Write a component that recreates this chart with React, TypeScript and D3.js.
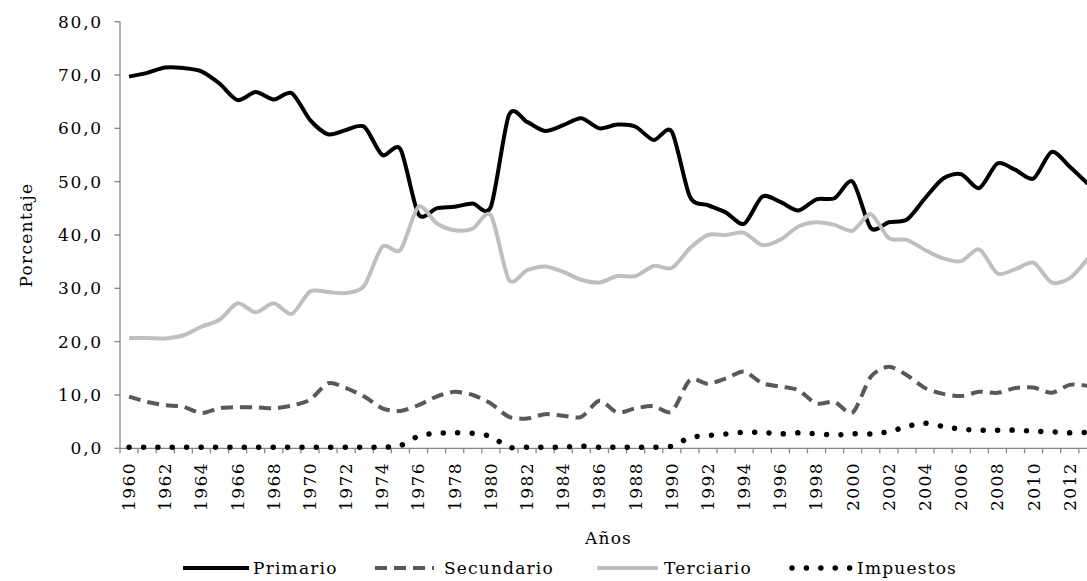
import * as d3 from 'd3';

const years = d3.range(1960, 2014);

const primario = [
  69.7, 70.4, 71.4, 71.3, 70.7, 68.4, 65.3, 66.8, 65.4, 66.6,
  61.6, 58.9, 59.7, 60.3, 55.0, 56.1, 43.9, 45.0, 45.3, 45.9,
  45.3, 62.5, 61.2, 59.5, 60.6, 61.9, 60.0, 60.7, 60.3, 57.8,
  59.4, 47.2, 45.6, 44.2, 42.1, 47.2, 46.2, 44.6, 46.7, 46.9,
  50.0, 41.3, 42.4, 42.9, 46.9, 50.6, 51.4, 48.8, 53.4, 52.2,
  50.6, 55.6, 52.8, 49.6,
];

const secundario = [
  9.7, 8.7, 8.1, 7.8, 6.6, 7.5, 7.7, 7.7, 7.5, 8.0,
  9.1, 12.2, 11.3, 9.7, 7.5, 7.0, 8.1, 9.7, 10.6, 10.0,
  8.4, 5.9, 5.6, 6.4, 6.1, 5.9, 8.9, 6.7, 7.5, 7.9,
  6.9, 12.8, 12.1, 13.1, 14.4, 12.2, 11.6, 10.9, 8.4, 8.7,
  6.7, 13.4, 15.3, 13.7, 11.3, 10.2, 9.8, 10.6, 10.4, 11.3,
  11.4, 10.4, 11.9, 11.7,
];

const terciario = [
  20.7, 20.7, 20.6, 21.2, 22.8, 24.1, 27.2, 25.5, 27.2, 25.2,
  29.4, 29.3, 29.1, 30.5, 37.8, 37.2, 45.3, 42.2, 40.9, 41.2,
  43.7, 31.6, 33.4, 34.1, 33.1, 31.6, 31.1, 32.3, 32.3, 34.2,
  33.8, 37.5, 40.0, 40.0, 40.4, 38.1, 39.1, 41.6, 42.4, 41.9,
  40.8, 43.9, 39.4, 39.1, 37.2, 35.6, 35.1, 37.3, 32.8, 33.6,
  34.8, 31.1, 31.9, 35.6,
];

const impuestos = [
  0.2, 0.2, 0.2, 0.2, 0.2, 0.2, 0.2, 0.2, 0.2, 0.2,
  0.2, 0.2, 0.2, 0.2, 0.2, 0.5, 2.3, 2.8, 2.9, 2.8,
  2.2, 0.2, 0.2, 0.2, 0.2, 0.4, 0.2, 0.2, 0.2, 0.2,
  0.4, 2.0, 2.4, 2.7, 3.0, 3.0, 2.7, 2.9, 2.7, 2.5,
  2.7, 2.7, 3.1, 4.1, 4.7, 4.1, 3.6, 3.4, 3.4, 3.4,
  3.2, 3.1, 2.9, 3.0,
];

const yTicks = [0, 10, 20, 30, 40, 50, 60, 70, 80];

const series = [
  { name: 'Primario', values: primario, color: '#000000', dash: null, width: 4, cap: 'butt' },
  { name: 'Secundario', values: secundario, color: '#595959', dash: '12 7', width: 4, cap: 'butt' },
  { name: 'Terciario', values: terciario, color: '#bfbfbf', dash: null, width: 4, cap: 'butt' },
  { name: 'Impuestos', values: impuestos, color: '#000000', dash: '0.01 14.4', width: 5.5, cap: 'round' },
];

const W = 1087;
const H = 581;
const font = '"DejaVu Serif", serif';
const axisColor = '#868686';

export default function App() {
  const x = d3.scaleBand<number>().domain(years).range([120, 1096.9]).padding(0);
  const y = d3.scaleLinear().domain([0, 80]).range([448.3, 21.7]);
  const cx = (yr: number) => (x(yr) as number) + x.bandwidth() / 2;

  // smoothed lines, like the spreadsheet's "smooth line" option
  const line = d3
    .line<number>()
    .x((_, i) => cx(years[i]))
    .y((d) => y(d))
    .curve(d3.curveCardinal.tension(0.2));

  const fmt = (v: number) => v.toFixed(1).replace('.', ',');

  // legend layout: sample line start/end, text start
  const legend = [
    { x0: 183, x1: 249, tx: 253 },
    { x0: 375, x1: 434, tx: 444 },
    { x0: 597, x1: 658, tx: 664 },
    { x0: 792, x1: 852, tx: 857 },
  ];

  return (
    <svg
      width={W}
      height={H}
      style={{ position: 'absolute', left: 0, top: 0, display: 'block', background: '#fff' }}
      fontFamily={font}
    >
      {/* y axis */}
      <line x1={120} x2={120} y1={y(80)} y2={y(0)} stroke={axisColor} strokeWidth={1.3} />
      {yTicks.map((t) => (
        <g key={t}>
          <line x1={114.5} x2={120} y1={y(t)} y2={y(t)} stroke={axisColor} strokeWidth={1.3} />
          <text
            x={103}
            y={y(t)}
            dy="0.35em"
            textAnchor="end"
            fontSize={17}
            letterSpacing={1.8}
            fill="#000"
          >
            {fmt(t)}
          </text>
        </g>
      ))}

      {/* x axis */}
      <line x1={120} x2={1096.9} y1={y(0)} y2={y(0)} stroke={axisColor} strokeWidth={1.3} />
      {years.concat([2014]).map((yr, i) => {
        const bx = 120 + i * x.bandwidth();
        return (
          <line key={'t' + yr} x1={bx} x2={bx} y1={y(0)} y2={y(0) + 5} stroke={axisColor} strokeWidth={1.3} />
        );
      })}
      {years
        .filter((yr) => (yr - 1960) % 2 === 0)
        .map((yr) => (
          <text
            key={'l' + yr}
            transform={`translate(${cx(yr)},462) rotate(-90)`}
            dy="0.35em"
            textAnchor="end"
            fontSize={17}
            letterSpacing={1.4}
            fill="#000"
          >
            {yr}
          </text>
        ))}

      {/* series */}
      {series.map((s) => (
        <path
          key={s.name}
          d={line(s.values) as string}
          fill="none"
          stroke={s.color}
          strokeWidth={s.width}
          strokeDasharray={s.dash ?? undefined}
          strokeLinecap={s.cap as any}
          strokeLinejoin="round"
        />
      ))}

      {/* axis titles */}
      <text x={608.5} y={544} textAnchor="middle" fontSize={17} letterSpacing={1.2} fill="#000">
        Años
      </text>
      <text
        transform={`translate(26,${(y(0) + y(80)) / 2}) rotate(-90)`}
        dy="0.35em"
        textAnchor="middle"
        fontSize={17}
        letterSpacing={1.3}
        fill="#000"
      >
        Porcentaje
      </text>

      {/* legend */}
      {series.map((s, i) => (
        <g key={'lg' + s.name}>
          <line
            x1={legend[i].x0}
            x2={legend[i].x1}
            y1={568}
            y2={568}
            stroke={s.color}
            strokeWidth={s.width}
            strokeDasharray={s.dash ?? undefined}
            strokeLinecap={s.cap as any}
          />
          <text x={legend[i].tx} y={568} dy="0.35em" fontSize={17} letterSpacing={1.2} fill="#000">
            {s.name}
          </text>
        </g>
      ))}
    </svg>
  );
}
